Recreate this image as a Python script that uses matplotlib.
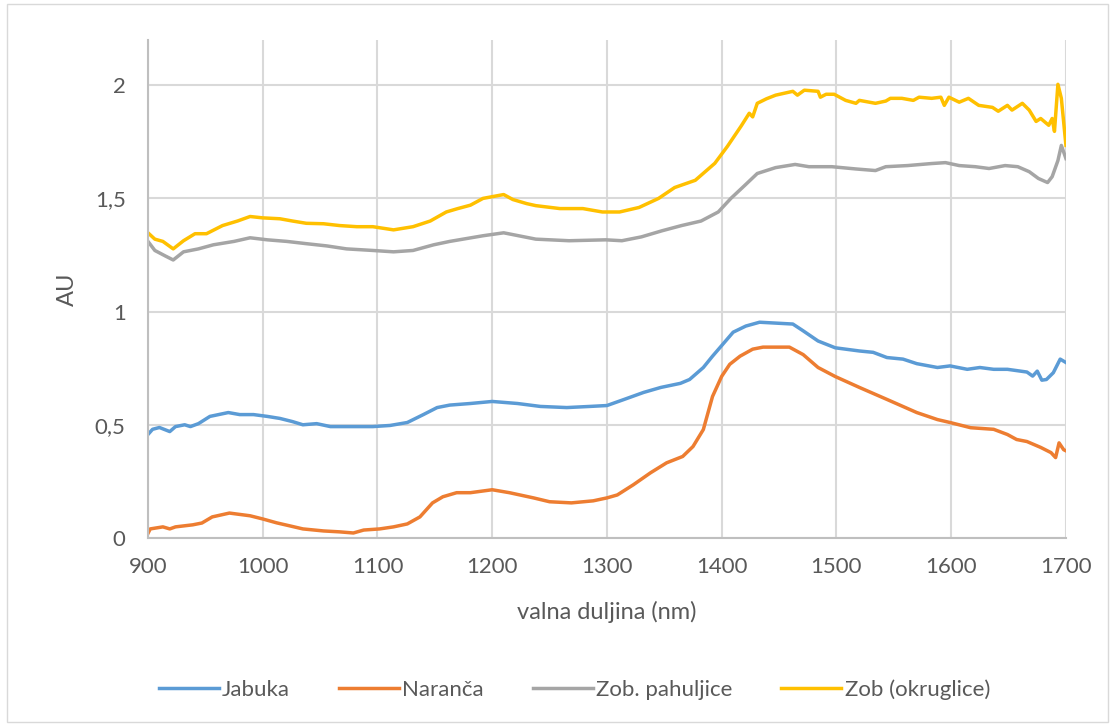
import matplotlib
matplotlib.use("Agg")
import matplotlib.pyplot as plt
from matplotlib.patches import Rectangle
from matplotlib.ticker import FuncFormatter, MultipleLocator

# (wavelength in nm, absorbance in AU)
jabuka_nm = [900, 904, 910, 919, 924, 932, 937, 944, 954, 970, 980, 992, 1004, 1015, 1026,
             1035, 1047, 1059, 1076, 1096, 1111, 1126, 1140, 1152, 1163, 1181, 1200, 1222,
             1242, 1265, 1285, 1300, 1315, 1332, 1347, 1364, 1372, 1384, 1392, 1400, 1410,
             1421, 1433, 1462, 1471, 1484, 1499, 1520, 1532, 1544, 1558, 1570, 1588, 1599,
             1614, 1625, 1637, 1649, 1666, 1671, 1675, 1679, 1683, 1689, 1695, 1700]
jabuka_au = [0.457, 0.48, 0.488, 0.47, 0.492, 0.50, 0.492, 0.505, 0.537, 0.554, 0.545, 0.545,
             0.537, 0.528, 0.514, 0.50, 0.505, 0.492, 0.492, 0.492, 0.497, 0.51, 0.545, 0.576,
             0.587, 0.594, 0.603, 0.594, 0.581, 0.576, 0.581, 0.585, 0.612, 0.643, 0.665,
             0.683, 0.70, 0.753, 0.803, 0.85, 0.909, 0.936, 0.953, 0.945, 0.915, 0.87, 0.84,
             0.826, 0.82, 0.797, 0.79, 0.77, 0.753, 0.76, 0.745, 0.753, 0.745, 0.745, 0.733,
             0.715, 0.737, 0.697, 0.70, 0.73, 0.79, 0.775]

naranca_nm = [900, 902, 913, 919, 924, 939, 947, 956, 971, 989, 1000, 1012, 1024, 1035, 1053,
              1067, 1079, 1088, 1102, 1114, 1126, 1137, 1148, 1157, 1169, 1181, 1200, 1215,
              1236, 1250, 1269, 1288, 1300, 1309, 1323, 1338, 1352, 1366, 1375, 1384, 1392,
              1400, 1407, 1416, 1427, 1436, 1459, 1471, 1484, 1499, 1520, 1544, 1570, 1588,
              1599, 1617, 1637, 1649, 1657, 1666, 1678, 1687, 1691, 1694, 1698, 1700]
naranca_au = [0.02, 0.04, 0.049, 0.04, 0.049, 0.058, 0.066, 0.093, 0.11, 0.098, 0.084, 0.067,
              0.053, 0.04, 0.031, 0.027, 0.022, 0.035, 0.04, 0.049, 0.062, 0.093, 0.155, 0.182,
              0.20, 0.20, 0.213, 0.20, 0.177, 0.16, 0.155, 0.164, 0.177, 0.19, 0.235, 0.288,
              0.332, 0.36, 0.404, 0.479, 0.625, 0.714, 0.767, 0.803, 0.834, 0.843, 0.843, 0.81,
              0.753, 0.713, 0.665, 0.612, 0.554, 0.523, 0.51, 0.487, 0.48, 0.457, 0.435, 0.426,
              0.40, 0.377, 0.355, 0.42, 0.39, 0.385]

pahuljice_nm = [900, 906, 915, 922, 931, 944, 957, 975, 989, 1004, 1021, 1038, 1056, 1073,
                1096, 1114, 1131, 1149, 1163, 1192, 1210, 1238, 1267, 1299, 1313, 1330, 1348,
                1365, 1382, 1397, 1408, 1420, 1431, 1447, 1464, 1476, 1496, 1517, 1534, 1543,
                1562, 1583, 1595, 1607, 1621, 1633, 1647, 1658, 1668, 1676, 1684, 1688, 1693,
                1696, 1700]
pahuljice_au = [1.31, 1.27, 1.246, 1.228, 1.264, 1.277, 1.295, 1.31, 1.326, 1.317, 1.31, 1.30,
                1.29, 1.277, 1.27, 1.264, 1.27, 1.295, 1.31, 1.335, 1.348, 1.32, 1.313, 1.317,
                1.313, 1.33, 1.357, 1.38, 1.40, 1.44, 1.50, 1.557, 1.61, 1.636, 1.65, 1.64,
                1.64, 1.63, 1.623, 1.64, 1.645, 1.654, 1.658, 1.645, 1.64, 1.632, 1.645, 1.64,
                1.618, 1.588, 1.57, 1.596, 1.667, 1.734, 1.676]

okruglice_nm = [900, 906, 913, 922, 931, 941, 951, 965, 978, 989, 1000, 1015, 1026, 1038, 1053,
                1067, 1082, 1096, 1114, 1131, 1146, 1160, 1170, 1181, 1192, 1210, 1218, 1230,
                1238, 1259, 1279, 1296, 1311, 1328, 1345, 1359, 1377, 1394, 1405, 1417, 1424,
                1427, 1431, 1439, 1447, 1462, 1466, 1472, 1484, 1486, 1491, 1498, 1508, 1517,
                1520, 1534, 1543, 1547, 1557, 1567, 1572, 1583, 1591, 1594, 1598, 1607, 1615,
                1624, 1636, 1641, 1649, 1653, 1662, 1668, 1674, 1678, 1685, 1688, 1690, 1693,
                1696, 1700]
okruglice_au = [1.348, 1.32, 1.31, 1.277, 1.313, 1.344, 1.344, 1.38, 1.40, 1.42, 1.414, 1.41,
                1.40, 1.39, 1.388, 1.38, 1.375, 1.375, 1.361, 1.375, 1.40, 1.44, 1.455, 1.47,
                1.50, 1.517, 1.495, 1.477, 1.468, 1.455, 1.455, 1.44, 1.44, 1.46, 1.50, 1.548,
                1.58, 1.655, 1.73, 1.82, 1.876, 1.86, 1.92, 1.94, 1.956, 1.973, 1.956, 1.978,
                1.973, 1.947, 1.96, 1.96, 1.933, 1.92, 1.933, 1.92, 1.93, 1.942, 1.942, 1.933,
                1.947, 1.942, 1.947, 1.911, 1.947, 1.925, 1.942, 1.911, 1.902, 1.885, 1.911,
                1.89, 1.92, 1.89, 1.84, 1.853, 1.823, 1.853, 1.796, 2.004, 1.942, 1.734]

x_ticks = [900, 1000, 1100, 1200, 1300, 1400, 1500, 1600, 1700]

SERIES = [
    ("Jabuka", jabuka_nm, jabuka_au, "#5B9BD5"),
    ("Naranča", naranca_nm, naranca_au, "#ED7D31"),
    ("Zob. pahuljice", pahuljice_nm, pahuljice_au, "#A5A5A5"),
    ("Zob (okruglice)", okruglice_nm, okruglice_au, "#FFC000"),
]

TEXT_COLOR = "#595959"
plt.rcParams["font.family"] = ["Lato", "DejaVu Sans"]

fig = plt.figure(figsize=(11.15, 7.26), dpi=100)
fig.patch.set_facecolor("white")
ax = fig.add_axes([0.1327, 0.259, 0.8233, 0.686])

for label, xs, ys, color in SERIES:
    ax.plot(xs, ys, color=color, linewidth=2.5, label=label, solid_joinstyle="round")

ax.set_xlim(900, 1700)
ax.set_ylim(0, 2.2)
ax.set_xticks(x_ticks)
ax.yaxis.set_major_locator(MultipleLocator(0.5))
ax.yaxis.set_major_formatter(FuncFormatter(lambda v, _: f"{v:g}".replace(".", ",")))
ax.grid(True, color="#D9D9D9", linewidth=1.5)
ax.set_axisbelow(True)

for side in ("top", "right"):
    ax.spines[side].set_visible(False)
for side in ("left", "bottom"):
    ax.spines[side].set_color("#BFBFBF")
    ax.spines[side].set_linewidth(1.5)

ax.tick_params(axis="both", length=0, labelsize=16, colors=TEXT_COLOR)
ax.tick_params(axis="x", pad=14)
ax.tick_params(axis="y", pad=16)

ax.set_xlabel("valna duljina (nm)", fontsize=17, color=TEXT_COLOR, labelpad=17)
ax.set_ylabel("AU", fontsize=17, color=TEXT_COLOR, labelpad=12)

fig.legend(loc="center", bbox_to_anchor=(0.515, 0.05), ncol=4, frameon=False,
           fontsize=16, handlelength=2.7, columnspacing=2.2, handletextpad=0.15,
           labelcolor=TEXT_COLOR)

fig.patches.append(Rectangle((0.006, 0.006), 0.988, 0.988, transform=fig.transFigure,
                             fill=False, edgecolor="#D9D9D9", linewidth=1.0))

fig.savefig("out.png", dpi=100, facecolor="white")
